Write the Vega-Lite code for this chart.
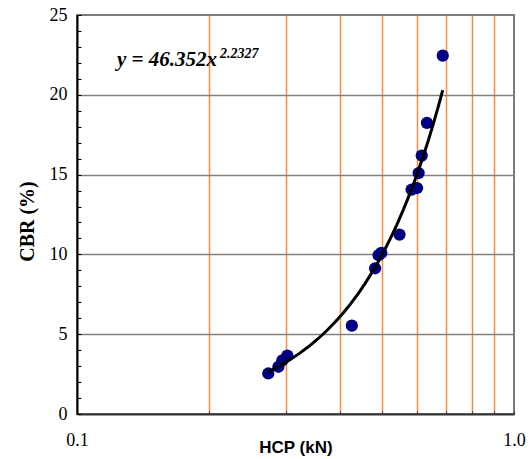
{
  "$schema": "https://vega.github.io/schema/vega-lite/v6.json",
  "width": 437,
  "height": 399,
  "autosize": {"type": "none"},
  "padding": {"left": 77, "top": 15, "right": 17, "bottom": 45},
  "background": "white",
  "config": {"view": {"stroke": "#7a7a7a", "strokeWidth": 2}},
  "data": {
    "values": [
      {"HCP": 0.274, "CBR": 2.54},
      {"HCP": 0.289, "CBR": 2.96},
      {"HCP": 0.295, "CBR": 3.36},
      {"HCP": 0.303, "CBR": 3.66},
      {"HCP": 0.4255, "CBR": 5.54},
      {"HCP": 0.481, "CBR": 9.13},
      {"HCP": 0.490, "CBR": 9.95},
      {"HCP": 0.497, "CBR": 10.1},
      {"HCP": 0.547, "CBR": 11.24},
      {"HCP": 0.583, "CBR": 14.06},
      {"HCP": 0.600, "CBR": 14.16},
      {"HCP": 0.605, "CBR": 15.1},
      {"HCP": 0.615, "CBR": 16.19},
      {"HCP": 0.632, "CBR": 18.24},
      {"HCP": 0.687, "CBR": 22.45}
    ]
  },
  "encoding": {
    "x": {
      "field": "HCP", "type": "quantitative",
      "scale": {"type": "log", "domain": [0.1, 1], "nice": false},
      "axis": {
        "values": [0.1, 0.2, 0.3, 0.4, 0.5, 0.6, 0.7, 0.8, 0.9, 1],
        "labelExpr": "datum.value < 0.15 ? '0.1' : (datum.value > 0.95 ? '1.0' : '')",
        "grid": true,
        "gridColor": "#F58A45",
        "gridWidth": 1.5,
        "gridOpacity": {"condition": {"test": "datum.value > 0.15 && datum.value < 0.95", "value": 1}, "value": 0},
        "domainColor": "#333333",
        "domainWidth": 2,
        "tickColor": "#333333",
        "tickSize": -3,
        "labelFont": "Liberation Serif, Times New Roman, serif",
        "labelFontSize": 18,
        "labelColor": "black",
        "labelPadding": 20,
        "labelBaseline": "top",
        "labelFlush": false,
        "labelOverlap": false,
        "title": "HCP (kN)",
        "titleFont": "Liberation Sans, Arial, sans-serif",
        "titleFontSize": 17,
        "titleFontWeight": "bold",
        "titleColor": "black",
        "titleBaseline": "alphabetic",
        "titleY": 38
      }
    },
    "y": {
      "field": "CBR", "type": "quantitative",
      "scale": {"domain": [0, 25], "nice": false},
      "axis": {
        "values": [0,1,2,3,4,5,6,7,8,9,10,11,12,13,14,15,16,17,18,19,20,21,22,23,24,25],
        "labelExpr": "datum.value % 5 === 0 ? datum.label : ''",
        "grid": true,
        "gridColor": "#808080",
        "gridWidth": 1.5,
        "gridOpacity": {"condition": {"test": "datum.value % 5 === 0 && datum.value > 0 && datum.value < 25", "value": 1}, "value": 0},
        "domainColor": "black",
        "domainWidth": 2,
        "tickColor": "black",
        "tickSize": -4,
        "labelFont": "Liberation Serif, Times New Roman, serif",
        "labelFontSize": 18,
        "labelColor": "black",
        "labelPadding": 14,
        "labelFlush": false,
        "labelOverlap": false,
        "title": "CBR (%)",
        "titleFont": "Liberation Serif, Times New Roman, serif",
        "titleFontSize": 20,
        "titleFontWeight": "bold",
        "titleColor": "black",
        "titleX": -50,
        "titleY": 206,
        "titleAlign": "center",
        "titleBaseline": "middle"
      }
    }
  },
  "layer": [
    {
      "mark": {"type": "point", "shape": "circle", "filled": true, "color": "#000080", "size": 150, "opacity": 1}
    },
    {
      "transform": [{"regression": "CBR", "on": "HCP", "method": "pow"}],
      "mark": {"type": "line", "color": "black", "strokeWidth": 3}
    },
    {
      "data": {"values": [{"HCP": 0.1234, "CBR": 21.79, "t": "y = 46.352x"}]},
      "mark": {"type": "text", "font": "Liberation Serif, Times New Roman, serif", "fontSize": 21, "fontWeight": "bold", "fontStyle": "italic", "align": "left", "baseline": "alphabetic", "color": "black"},
      "encoding": {"text": {"field": "t"}}
    },
    {
      "data": {"values": [{"HCP": 0.2125, "CBR": 22.33, "t": "2.2327"}]},
      "mark": {"type": "text", "font": "Liberation Serif, Times New Roman, serif", "fontSize": 14, "fontWeight": "bold", "fontStyle": "italic", "align": "left", "baseline": "alphabetic", "color": "black"},
      "encoding": {"text": {"field": "t"}}
    }
  ]
}
